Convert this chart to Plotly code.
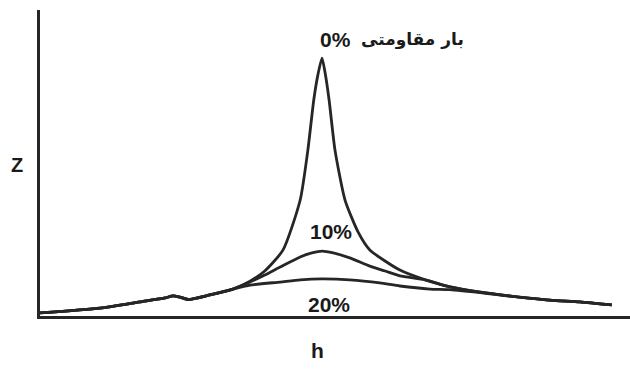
import plotly.graph_objects as go

# h (arbitrary units, 0-100) and Z (arbitrary units, 0-100)
h_0 = [0, 10.2, 16.9, 21.2, 22.5, 23.7, 25.1, 28.8, 32.7, 35.6, 38.1, 41.2, 44.1, 45.4, 46.4,
       47.1, 47.8, 48.3, 49.0, 50.0, 51.7, 53.9, 55.9, 61.0, 65.3, 69.5, 78.0, 86.4, 91.5, 96.9]
z_0 = [1.0, 2.6, 4.6, 5.9, 6.6, 6.2, 5.4, 6.9, 8.8, 11.4, 14.7, 21.6, 37.9, 54.2, 70.6,
       78.8, 84.3, 79.7, 70.6, 54.2, 37.9, 27.5, 21.6, 15.0, 11.8, 9.5, 6.9, 5.2, 4.6, 3.6]

h_10 = [0, 10.2, 16.9, 21.2, 22.5, 23.7, 25.1, 28.8, 32.7, 35.6, 38.1, 40.7, 44.1, 46.1, 47.8,
        49.7, 52.5, 55.9, 58.5, 61.0, 65.3, 69.5, 78.0, 86.4, 91.5, 96.9]
z_10 = [1.0, 2.6, 4.6, 5.9, 6.6, 6.2, 5.4, 6.9, 8.8, 11.1, 13.4, 16.0, 19.3, 20.6, 21.2,
        20.6, 19.0, 16.3, 14.7, 13.1, 11.8, 9.5, 6.9, 5.2, 4.6, 3.6]

h_20 = [0, 10.2, 16.9, 21.2, 22.5, 23.7, 25.1, 28.8, 32.7, 35.6, 40.7, 44.1, 47.8, 52.5,
        57.6, 61.0, 66.1, 69.5, 78.0, 86.4, 91.5, 96.9]
z_20 = [1.0, 2.6, 4.6, 5.9, 6.6, 6.2, 5.4, 6.9, 8.8, 10.1, 11.1, 11.8, 12.1, 11.8,
        10.8, 9.8, 8.8, 8.6, 6.9, 5.2, 4.6, 3.6]

series_names = ["0%", "10%", "20%"]
load_label = "بار مقاومتی"
x_title = "h"
y_title = "Z"

line_col = "#262626"
fig = go.Figure()
for name, hx, zy in [(series_names[0], h_0, z_0), (series_names[1], h_10, z_10), (series_names[2], h_20, z_20)]:
    fig.add_trace(go.Scatter(x=hx, y=zy, mode="lines", name=name,
                             line=dict(color=line_col, width=2.8, shape="spline", smoothing=0.6),
                             showlegend=False, hoverinfo="skip"))

font_b = dict(family="Liberation Sans, Arial, sans-serif", size=21, color="#1a1a1a")
anc = dict(showarrow=False, xanchor="center", yanchor="middle")
fig.add_annotation(x=50.0, y=90.2, xref="x", yref="y", text="<b>" + series_names[0] + "</b>",
                   font=font_b, **anc)
fig.add_annotation(x=63.2, y=90.2, xref="x", yref="y", text="<b>" + load_label + "</b>",
                   font=dict(family="DejaVu Sans", size=17, color="#1a1a1a"), **anc)
fig.add_annotation(x=49.3, y=27.5, xref="x", yref="y", text="<b>" + series_names[1] + "</b>",
                   font=font_b, **anc)
fig.add_annotation(x=49.0, y=3.9, xref="x", yref="y", text="<b>" + series_names[2] + "</b>",
                   font=font_b, **anc)
fig.add_annotation(x=-0.039, y=0.493, xref="paper", yref="paper", text="<b>" + y_title + "</b>",
                   font=dict(family="Liberation Sans, Arial", size=20, color="#1a1a1a"), **anc)
fig.add_annotation(x=0.471, y=-0.114, xref="paper", yref="paper", text="<b>" + x_title + "</b>",
                   font=dict(family="Liberation Sans, Arial", size=21, color="#1a1a1a"), **anc)

axis_common = dict(showline=True, linecolor=line_col, linewidth=3, showgrid=False, zeroline=False,
                   ticks="", showticklabels=False, range=[0, 100], fixedrange=True)
fig.update_xaxes(**axis_common)
fig.update_yaxes(**axis_common)
fig.update_layout(width=630, height=369, margin=dict(l=40, r=0, t=10, b=53),
                  plot_bgcolor="white", paper_bgcolor="white")

fig.write_html("out.html", config={"displayModeBar": False},
               post_script="document.body.style.margin='0';")
